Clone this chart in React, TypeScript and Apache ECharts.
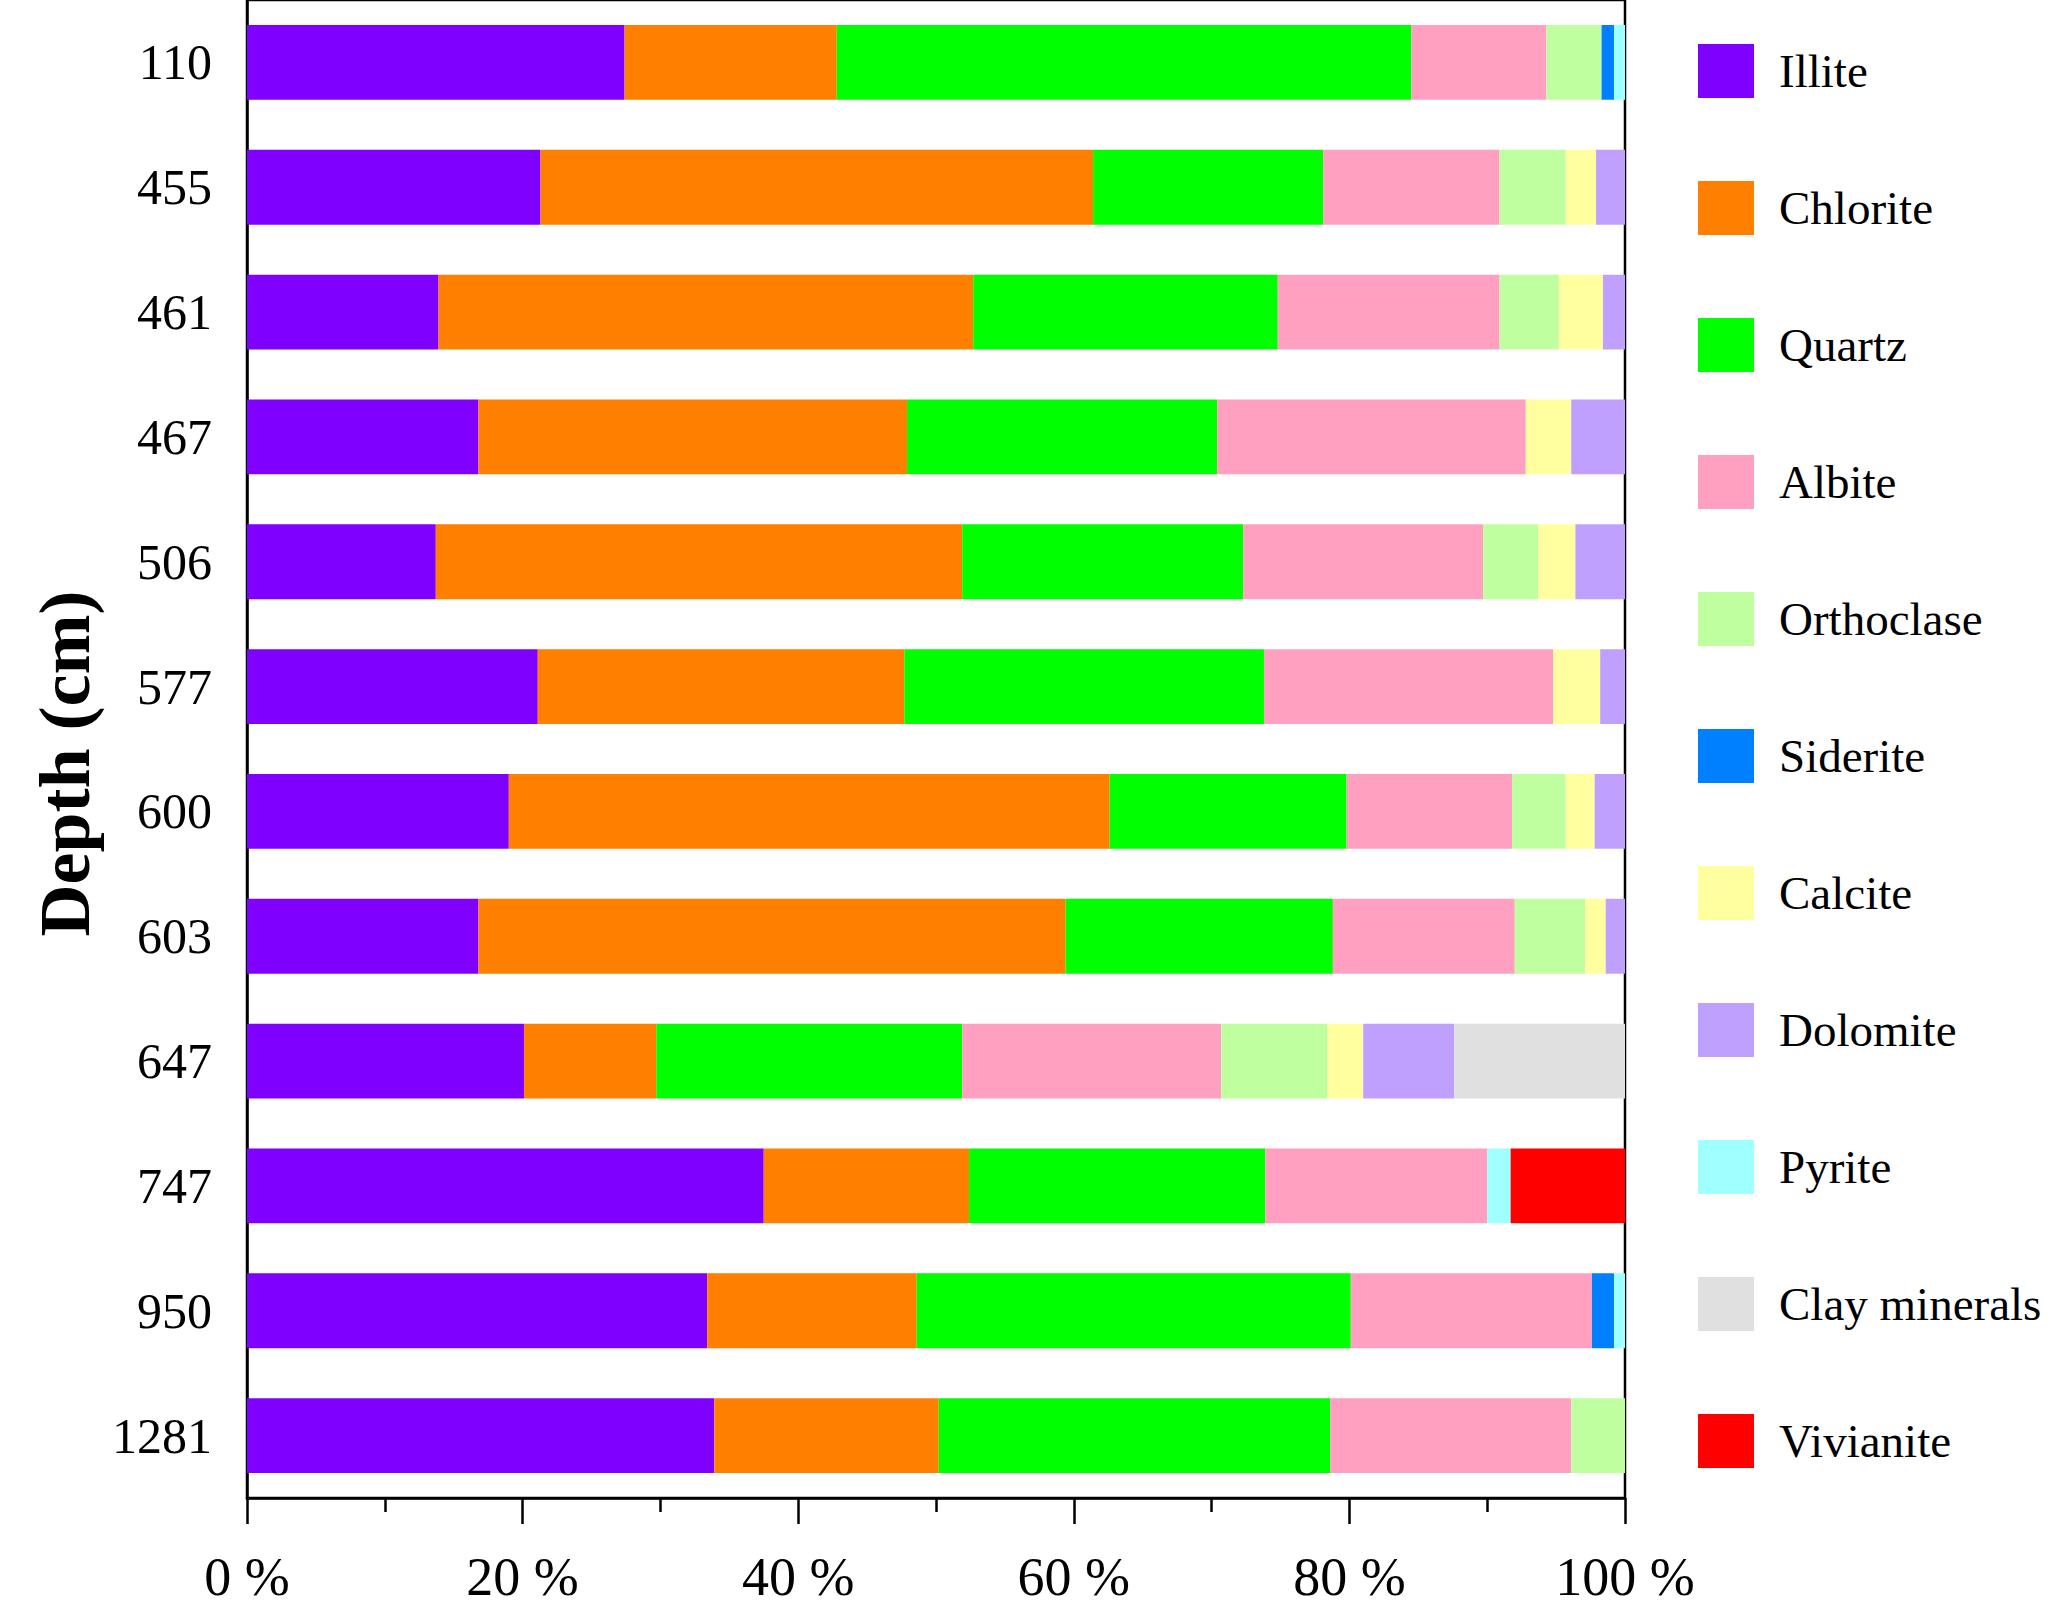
import React, { useEffect, useRef } from "react";
import * as echarts from "echarts";

// depth labels, top to bottom
const depths = ["110", "455", "461", "467", "506", "577", "600", "603", "647", "747", "950", "1281"];

// mineral percentages per depth
const illite = [27.4, 21.3, 13.9, 16.8, 13.7, 21.1, 19.0, 16.8, 20.1, 37.5, 33.4, 33.9];
const chlorite = [15.4, 40.1, 38.8, 31.1, 38.2, 26.6, 43.6, 42.6, 9.6, 14.9, 15.2, 16.3];
const quartz = [41.7, 16.7, 22.1, 22.5, 20.4, 26.1, 17.2, 19.4, 22.2, 21.5, 31.5, 28.4];
const albite = [9.8, 12.8, 16.1, 22.4, 17.4, 21.0, 12.0, 13.2, 18.8, 16.1, 17.5, 17.5];
const orthoclase = [4.0, 4.8, 4.3, 0, 4.0, 0, 3.9, 5.1, 7.7, 0, 0, 3.9];
const siderite = [0.9, 0, 0, 0, 0, 0, 0, 0, 0, 0, 1.6, 0];
const calcite = [0, 2.2, 3.2, 3.3, 2.7, 3.4, 2.1, 1.5, 2.6, 0, 0, 0];
const dolomite = [0, 2.1, 1.6, 3.9, 3.6, 1.8, 2.2, 1.4, 6.6, 0, 0, 0];
const pyrite = [0.8, 0, 0, 0, 0, 0, 0, 0, 0, 1.7, 0.8, 0];
const clayMinerals = [0, 0, 0, 0, 0, 0, 0, 0, 12.4, 0, 0, 0];
const vivianite = [0, 0, 0, 0, 0, 0, 0, 0, 0, 8.3, 0, 0];

const xTicks = [0, 20, 40, 60, 80, 100];

const minerals = [
  { name: "Illite", data: illite, color: "#8000FF" },
  { name: "Chlorite", data: chlorite, color: "#FF8000" },
  { name: "Quartz", data: quartz, color: "#00FF00" },
  { name: "Albite", data: albite, color: "#FFA0C0" },
  { name: "Orthoclase", data: orthoclase, color: "#C0FFA0" },
  { name: "Siderite", data: siderite, color: "#0080FF" },
  { name: "Calcite", data: calcite, color: "#FFFFA0" },
  { name: "Dolomite", data: dolomite, color: "#C0A0FF" },
  { name: "Pyrite", data: pyrite, color: "#A0FFFF" },
  { name: "Clay minerals", data: clayMinerals, color: "#E0E0E0" },
  { name: "Vivianite", data: vivianite, color: "#FF0000" },
];

const FONT = '"Liberation Serif", "Times New Roman", serif';

const App: React.FC = () => {
  const chartRef = useRef<HTMLDivElement | null>(null);

  useEffect(() => {
    document.body.style.margin = "0";
    if (!chartRef.current) return;
    const chart = echarts.init(chartRef.current, undefined, { renderer: "svg" });

    const option: echarts.EChartsOption = {
      animation: false,
      backgroundColor: "#ffffff",
      textStyle: { fontFamily: FONT, color: "#000" },
      grid: {
        left: 247,
        right: 441,
        top: -7,
        bottom: 120,
        show: true,
        borderColor: "#000",
        borderWidth: 2.5,
        backgroundColor: "transparent",
      },
      legend: {
        orient: "vertical",
        left: 1698,
        top: 44,
        padding: 0,
        itemWidth: 56,
        itemHeight: 54,
        itemGap: 83,
        icon: "rect",
        selectedMode: false,
        data: minerals.map((m) => m.name),
        textStyle: {
          fontFamily: FONT,
          fontSize: 47,
          color: "#000",
          padding: [0, 0, 0, 20],
        },
      },
      xAxis: {
        type: "value",
        min: xTicks[0],
        max: xTicks[xTicks.length - 1],
        interval: 20,
        axisLine: { show: true, lineStyle: { color: "#000", width: 2.5 } },
        axisTick: { show: true, length: 26, lineStyle: { color: "#000", width: 2.5 } },
        minorTick: { show: true, splitNumber: 2, length: 14, lineStyle: { color: "#000", width: 2.5 } },
        splitLine: { show: false },
        axisLabel: {
          formatter: (v: number) => `${v} %`,
          fontFamily: FONT,
          fontSize: 54,
          color: "#000",
          margin: 52,
        },
      },
      yAxis: {
        type: "category",
        data: depths,
        inverse: true,
        name: "Depth (cm)",
        nameLocation: "middle",
        nameGap: 146,
        nameTextStyle: {
          fontFamily: FONT,
          fontSize: 72,
          fontWeight: "bold",
          color: "#000",
          padding: [0, 29, 0, 0],
        },
        axisLine: { show: true, lineStyle: { color: "#000", width: 2.5 } },
        axisTick: { show: false },
        axisLabel: {
          fontFamily: FONT,
          fontSize: 50,
          color: "#000",
          margin: 35,
        },
      },
      series: minerals.map((m) => ({
        name: m.name,
        type: "bar",
        stack: "total",
        barCategoryGap: "40%",
        data: m.data,
        itemStyle: { color: m.color },
        emphasis: { disabled: true },
      })),
    };

    chart.setOption(option);

    return () => {
      chart.dispose();
    };
  }, []);

  return <div ref={chartRef} style={{ width: 2066, height: 1618 }} />;
};

export default App;
